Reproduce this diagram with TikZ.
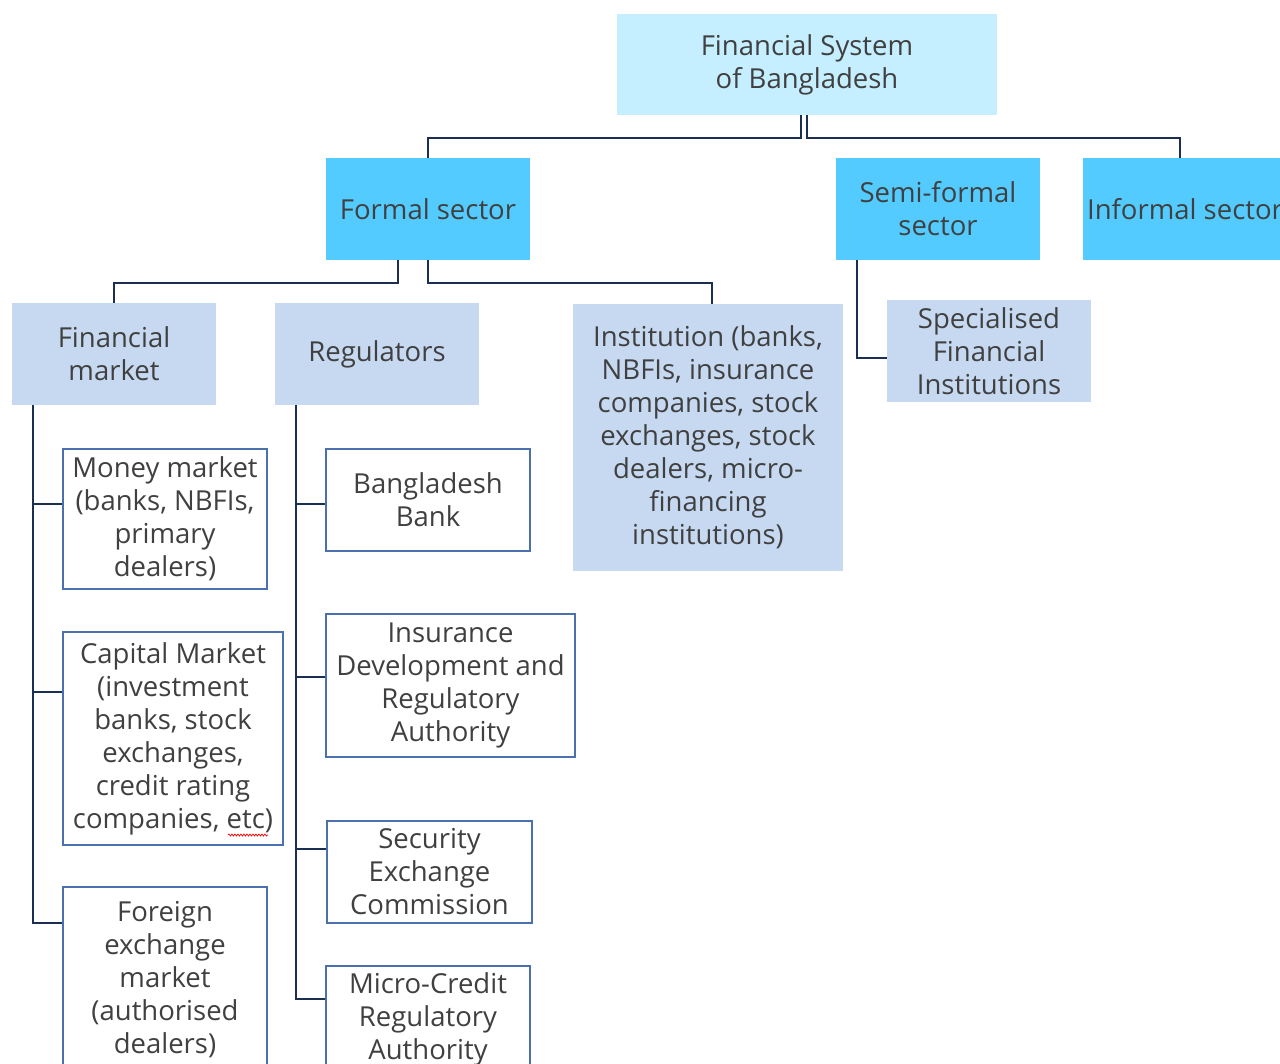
\documentclass[tikz,border=0pt]{standalone}
\usepackage{fontspec}
\setmainfont{Open Sans}
\usetikzlibrary{calc,decorations.pathmorphing}
\definecolor{topc}{HTML}{C5EEFF}
\definecolor{sectc}{HTML}{53CBFF}
\definecolor{subc}{HTML}{C6D9F1}
\definecolor{leafc}{HTML}{4A70AE}
\definecolor{linec}{HTML}{1B2F52}
\definecolor{txtc}{HTML}{404040}
\tikzset{
  box/.style={rectangle, inner sep=0pt, align=center, text=txtc,
    font=\fontsize{27.5}{33}\selectfont,
    execute at begin node={\vspace*{6pt}}},
  topbox/.style={box, fill=topc},
  sectbox/.style={box, fill=sectc},
  subbox/.style={box, fill=subc},
  leafbox/.style={box, draw=leafc, line width=1.3pt, fill=white},
  conn/.style={draw=linec, line width=2.4pt},
  thinconn/.style={draw=linec, line width=1.4pt},
}
\begin{document}
\begin{tikzpicture}[x={(1pt,0pt)}, y={(0pt,-1pt)}]
\useasboundingbox (0,0) rectangle (1280,1064);
\clip (0,0) rectangle (1280,1064);

\node[topbox, minimum width=380, minimum height=101] (top) at (807,64.5) {Financial System\\of Bangladesh};
\node[sectbox, minimum width=204, minimum height=102] (formal) at (428,209) {Formal sector};
\node[sectbox, minimum width=204, minimum height=102] (semi) at (938,209) {Semi-formal\\sector};
\node[sectbox, minimum width=204, minimum height=102] (informal) at (1185,209) {Informal sector};

\node[subbox, minimum width=204, minimum height=102] (fm) at (114,354) {Financial\\market};
\node[subbox, minimum width=204, minimum height=102] (reg) at (377,354) {Regulators};
\node[subbox, minimum width=270, minimum height=267] (inst) at (708,437.5) {Institution (banks,\\NBFIs, insurance\\companies, stock\\exchanges, stock\\dealers, micro-\\financing\\institutions)};
\node[subbox, minimum width=204, minimum height=102] (sfi) at (989,351) {Specialised\\Financial\\Institutions};

\node[leafbox, minimum width=204, minimum height=140] (money) at (165,519) {Money market\\(banks, NBFIs,\\primary\\dealers)};
\node[leafbox, minimum width=220, minimum height=213] (capital) at (173,738.5) {Capital Market\\(investment\\banks, stock\\exchanges,\\credit rating\\companies, etc)};
\node[leafbox, minimum width=204, minimum height=186] (forex) at (165,980) {Foreign\\exchange\\market\\(authorised\\dealers)};

\node[leafbox, minimum width=204, minimum height=102] (bb) at (428,500) {Bangladesh\\Bank};
\node[leafbox, minimum width=249, minimum height=143] (idra) at (450.5,685.5) {Insurance\\Development and\\Regulatory\\Authority};
\node[leafbox, minimum width=205, minimum height=102] (sec) at (429.5,872) {Security\\Exchange\\Commission};
\node[leafbox, minimum width=204, minimum height=106] (mcra) at (428,1019) {Micro-Credit\\Regulatory\\Authority};

% spell-check squiggle
\coordinate (sqa) at (228,835);
\coordinate (sqb) at (268,835);
\draw[red, line width=0.7pt, decorate, decoration={snake, amplitude=1pt, segment length=3pt}] (sqa) -- (sqb);

% top-level connectors
\draw[conn] ($(top.south)+(-6,0)$) -- ++(0,23) -| (formal.north);
\draw[conn] (top.south) -- ++(0,23) -| ($(informal.north)+(-5,0)$);

% formal sector
\draw[conn] ($(formal.south)+(-30,0)$) -- ++(0,23) -| (fm.north);
\draw[conn] (formal.south) -- ++(0,23) -| ($(inst.north)+(4,0)$);

% semi-formal
\draw[thinconn] ($(semi.south)+(-81,0)$) |- ($(sfi.west)+(0,7)$);

% financial market branches
\draw[thinconn] ($(fm.south)+(-81,0)$) |- ($(forex.west)+(0,-57)$);
\draw[thinconn] ($(fm.south)+(-81,0)$) |- ($(money.west)+(0,-15)$);
\draw[thinconn] ($(fm.south)+(-81,0)$) |- ($(capital.west)+(0,-46.5)$);

% regulators branches
\draw[thinconn] ($(reg.south)+(-81,0)$) |- ($(mcra.west)+(0,-20)$);
\draw[thinconn] ($(reg.south)+(-81,0)$) |- ($(bb.west)+(0,4)$);
\draw[thinconn] ($(reg.south)+(-81,0)$) |- ($(idra.west)+(0,-8.5)$);
\draw[thinconn] ($(reg.south)+(-81,0)$) |- ($(sec.west)+(0,-23)$);
\end{tikzpicture}
\end{document}
